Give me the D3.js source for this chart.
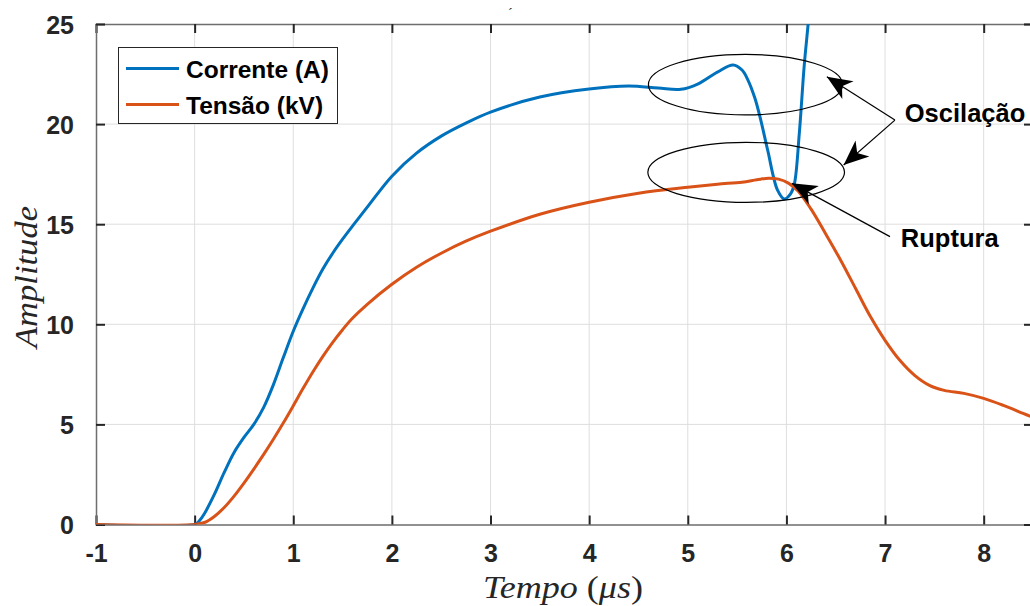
<!DOCTYPE html>
<html>
<head>
<meta charset="utf-8">
<script src="https://cdn.jsdelivr.net/npm/d3@7"></script>
<style>
  body { margin: 0; background: #fff; }
  svg { display: block; }
</style>
</head>
<body>
<svg id="chart" width="1030" height="606"></svg>
<script>
// time axis (µs)
const xTicks = [-1, 0, 1, 2, 3, 4, 5, 6, 7, 8];
const yTicks = [0, 5, 10, 15, 20, 25];

// Corrente (A)
const tCorrente = [-1, 0, 0.05, 0.1, 0.2, 0.3, 0.4, 0.5, 0.6, 0.7, 0.8, 0.9, 1.0, 1.1, 1.2, 1.3, 1.4, 1.5, 1.6, 1.75, 2.0, 2.25, 2.5, 2.75, 3.0, 3.5, 4.0, 4.4, 4.7, 4.93, 5.1, 5.3, 5.46, 5.55, 5.61, 5.68, 5.74, 5.81, 5.91, 5.98, 6.04, 6.08, 6.13, 6.18, 6.22, 6.27];
const vCorrente = [0, 0, 0.2, 0.55, 1.5, 2.6, 3.6, 4.35, 5.0, 5.85, 7.0, 8.35, 9.65, 10.78, 11.82, 12.76, 13.55, 14.25, 14.9, 15.85, 17.4, 18.55, 19.4, 20.05, 20.6, 21.35, 21.75, 21.9, 21.8, 21.74, 22.0, 22.6, 22.95, 22.7, 22.2, 21.3, 20.2, 18.7, 16.7, 16.26, 16.5, 17.0, 19.5, 22.9, 25, 28];

// Tensão (kV)
const tTensao = [-1, 0, 0.1, 0.2, 0.3, 0.4, 0.5, 0.6, 0.7, 0.8, 0.9, 1.0, 1.1, 1.2, 1.3, 1.4, 1.5, 1.6, 1.75, 2.0, 2.25, 2.5, 2.75, 3.0, 3.5, 4.0, 4.5, 5.0, 5.3, 5.55, 5.7, 5.82, 5.92, 6.02, 6.12, 6.25, 6.4, 6.55, 6.7, 6.85, 7.0, 7.15, 7.3, 7.45, 7.6, 7.8, 8.0, 8.2, 8.4, 8.5];
const vTensao = [0, 0, 0.1, 0.4, 0.85, 1.42, 2.07, 2.77, 3.5, 4.27, 5.08, 5.93, 6.8, 7.63, 8.4, 9.1, 9.73, 10.3, 11.0, 12.0, 12.85, 13.55, 14.15, 14.65, 15.5, 16.1, 16.55, 16.85, 17.0, 17.1, 17.22, 17.3, 17.25, 17.05, 16.65, 15.75, 14.5, 13.2, 11.8, 10.4, 9.2, 8.2, 7.45, 6.95, 6.7, 6.55, 6.3, 5.95, 5.55, 5.35];

const seriesNames = ['Corrente (A)', 'Tensão (kV)'];

// annotations, in data units
const ellipses = [
  { t: 5.585, v: 21.97, rt: 0.984, rv: 1.51 },
  { t: 5.592, v: 17.59, rt: 0.997, rv: 1.5 }
];
const arrows = [
  { from: [7.10, 20.2], to: [6.41, 22.37] },
  { from: [7.10, 20.2], to: [6.58, 17.96] },
  { from: [7.05, 14.38], to: [6.055, 17.04] }
];
const labels = [
  { text: 'Oscilação', t: 7.20, v: 20.1 },
  { text: 'Ruptura', t: 7.16, v: 13.86 }
];

const colors = ['#0072BD', '#D95319'];
const plotLeft = 96, plotRight = 1033, plotTop = 24, plotBottom = 524.5;

const svg = d3.select('#chart');

const x = d3.scaleLinear().domain([-1, 8.5]).range([plotLeft, plotRight]);
const y = d3.scaleLinear().domain([0, 25]).range([plotBottom, plotTop]);

svg.append('defs').append('clipPath')
  .attr('id', 'plot-clip')
  .append('rect')
  .attr('x', plotLeft).attr('y', plotTop)
  .attr('width', plotRight - plotLeft).attr('height', plotBottom - plotTop);

// grid
const grid = svg.append('g').attr('stroke', '#dedede').attr('stroke-width', 1);
grid.selectAll('.gx').data(xTicks.slice(1)).enter().append('line')
  .attr('x1', d => x(d)).attr('x2', d => x(d))
  .attr('y1', plotTop).attr('y2', plotBottom);
grid.selectAll('.gy').data(yTicks.slice(1, -1)).enter().append('line')
  .attr('x1', plotLeft).attr('x2', plotRight)
  .attr('y1', d => y(d)).attr('y2', d => y(d));

// axes with inward ticks
const tickLen = 9;
const fontTicks = '"Liberation Sans", Arial, sans-serif';

const xAxis = d3.axisBottom(x).tickValues(xTicks).tickSize(-tickLen).tickPadding(tickLen + 16)
  .tickFormat(d => String(d));
const gx = svg.append('g').attr('transform', `translate(0,${plotBottom})`).call(xAxis);
const xAxisTop = d3.axisTop(x).tickValues(xTicks).tickSize(-tickLen).tickFormat('');
const gxt = svg.append('g').attr('transform', `translate(0,${plotTop})`).call(xAxisTop);

const yAxis = d3.axisLeft(y).tickValues(yTicks).tickSize(-tickLen).tickPadding(tickLen + 13);
const gy = svg.append('g').attr('transform', `translate(${plotLeft},0)`).call(yAxis);
const yAxisRight = d3.axisRight(y).tickValues(yTicks).tickSize(-tickLen).tickFormat('');
const gyr = svg.append('g').attr('transform', `translate(${plotRight},0)`).call(yAxisRight);

[gx, gxt, gy, gyr].forEach(g => {
  g.select('.domain').attr('stroke', '#6e6e6e').attr('stroke-width', 1.5);
  g.selectAll('.tick line').attr('stroke', '#262626').attr('stroke-width', 2);
  g.selectAll('.tick text')
    .attr('fill', '#262626')
    .style('font-family', fontTicks)
    .style('font-weight', 'bold')
    .style('font-size', '25px');
});
gx.selectAll('.tick text').attr('dy', '0.5em');
gy.selectAll('.tick text').attr('dy', '0.36em');

// lines
const line = d3.line()
  .x(d => x(d[0]))
  .y(d => y(d[1]))
  .curve(d3.curveCatmullRom.alpha(0.5));

const plot = svg.append('g').attr('clip-path', 'url(#plot-clip)');
const series = [
  d3.zip(tCorrente, vCorrente),
  d3.zip(tTensao, vTensao)
];
plot.selectAll('.series').data(series).enter().append('path')
  .attr('d', line)
  .attr('fill', 'none')
  .attr('stroke', (d, i) => colors[i])
  .attr('stroke-width', 3)
  .attr('stroke-linejoin', 'round');

// annotations
const ann = svg.append('g');
ann.selectAll('ellipse').data(ellipses).enter().append('ellipse')
  .attr('cx', d => x(d.t)).attr('cy', d => y(d.v))
  .attr('rx', d => x(d.t + d.rt) - x(d.t))
  .attr('ry', d => y(d.v - d.rv) - y(d.v))
  .attr('fill', 'none').attr('stroke', '#000').attr('stroke-width', 1.2);

function headPath(d) {
  const x0 = x(d.from[0]), y0 = y(d.from[1]);
  const x1 = x(d.to[0]), y1 = y(d.to[1]);
  const len = Math.hypot(x1 - x0, y1 - y0);
  const ux = (x1 - x0) / len, uy = (y1 - y0) / len;
  const nx = -uy, ny = ux;
  const L = 25, W = 10.5, notch = 7;
  const bx = x1 - L * ux, by = y1 - L * uy;
  return `M${x1},${y1}L${bx + W * nx},${by + W * ny}L${x1 - (L - notch) * ux},${y1 - (L - notch) * uy}L${bx - W * nx},${by - W * ny}Z`;
}
ann.selectAll('.shaft').data(arrows).enter().append('line')
  .attr('x1', d => x(d.from[0])).attr('y1', d => y(d.from[1]))
  .attr('x2', d => x(d.to[0])).attr('y2', d => y(d.to[1]))
  .attr('stroke', '#000').attr('stroke-width', 1.2);
ann.selectAll('.head').data(arrows).enter().append('path')
  .attr('d', headPath)
  .attr('fill', '#000');

ann.selectAll('.lbl').data(labels).enter().append('text')
  .attr('x', d => x(d.t)).attr('y', d => y(d.v))
  .attr('fill', '#000')
  .style('font-family', fontTicks)
  .style('font-weight', 'bold')
  .style('font-size', '25.5px')
  .text(d => d.text);

// legend
const legend = svg.append('g');
legend.append('rect')
  .attr('x', 118.5).attr('y', 47.5).attr('width', 219).attr('height', 76)
  .attr('fill', '#fff').attr('stroke', '#262626').attr('stroke-width', 1);
const rows = legend.selectAll('.row').data(seriesNames).enter().append('g')
  .attr('transform', (d, i) => `translate(0,${68.5 + i * 36})`);
rows.append('line')
  .attr('x1', 126).attr('x2', 179)
  .attr('stroke', (d, i) => colors[i]).attr('stroke-width', 3);
rows.append('text')
  .attr('x', 186).attr('y', 9)
  .attr('fill', '#000')
  .style('font-family', fontTicks)
  .style('font-weight', 'bold')
  .style('font-size', '24.5px')
  .text(d => d);

// axis labels (LaTeX-like)
const serif = '"Liberation Serif", "DejaVu Serif", serif';
const xl = svg.append('text')
  .attr('x', 563).attr('y', 598)
  .attr('text-anchor', 'middle')
  .attr('textLength', 160)
  .attr('lengthAdjust', 'spacingAndGlyphs')
  .attr('fill', '#262626')
  .style('font-family', serif)
  .style('font-size', '31px');
xl.append('tspan').style('font-style', 'italic').text('Tempo ');
xl.append('tspan').text('(');
xl.append('tspan').style('font-style', 'italic').text('μs');
xl.append('tspan').text(')');

svg.append('text')
  .attr('transform', 'translate(37,277) rotate(-90)')
  .attr('text-anchor', 'middle')
  .attr('textLength', 142)
  .attr('lengthAdjust', 'spacingAndGlyphs')
  .attr('fill', '#262626')
  .style('font-family', serif)
  .style('font-style', 'italic')
  .style('font-size', '31px')
  .text('Amplitude');

// clipped title remnant
svg.append('text')
  .attr('x', 508).attr('y', 18)
  .attr('fill', '#262626')
  .style('font-family', serif)
  .style('font-size', '14px')
  .text('ˊ');
</script>
</body>
</html>
